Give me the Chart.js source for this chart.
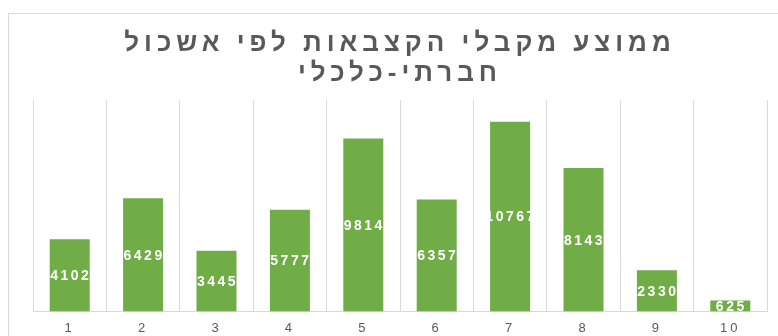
<!DOCTYPE html>
<html lang="he">
<head>
<meta charset="utf-8">
<title>ממוצע מקבלי הקצבאות לפי אשכול חברתי-כלכלי</title>
<script src="https://cdn.jsdelivr.net/npm/chart.js@4/dist/chart.umd.min.js"></script>
<style>
  html, body { margin: 0; padding: 0; background: #ffffff; }
  #wrap { position: relative; width: 778px; height: 336px; }
</style>
</head>
<body>
<div id="wrap"><canvas id="chart"></canvas></div>
<script>
// Socio-economic cluster (1 = lowest, 10 = highest)
const clusters = ['1', '2', '3', '4', '5', '6', '7', '8', '9', '10'];
// Average number of benefit recipients per cluster
const recipients = [4102, 6429, 3445, 5777, 9814, 6357, 10767, 8143, 2330, 625];
const titleLines = ['ממוצע מקבלי הקצבאות לפי אשכול', 'חברתי-כלכלי'];
const yMax = 12000;

const FONT = '"Liberation Sans", "DejaVu Sans", Arial, sans-serif';
const GREY_TEXT = '#595959';
const GRID = '#D9D9D9';
const BAR = '#70AD47';

// Light frame around the whole chart; wide glyph spacing for the title
const framePlugin = {
  id: 'frame',
  beforeDraw(chart) {
    const ctx = chart.ctx;
    ctx.save();
    ctx.strokeStyle = GRID;
    ctx.lineWidth = 1;
    ctx.strokeRect(8.5, 13.5, 900, 500);
    ctx.restore();
    ctx.letterSpacing = '5px';
  }
};

// Value written in the middle of each bar; then spacing for the axis labels
const valueLabels = {
  id: 'valueLabels',
  afterDatasetsDraw(chart) {
    const ctx = chart.ctx;
    const meta = chart.getDatasetMeta(0);
    const data = chart.data.datasets[0].data;
    ctx.save();
    ctx.letterSpacing = '2.5px';
    ctx.font = 'bold 14px ' + FONT;
    ctx.fillStyle = '#ffffff';
    ctx.textAlign = 'center';
    ctx.textBaseline = 'middle';
    meta.data.forEach((bar, i) => {
      const y = (bar.y + bar.base) / 2;
      ctx.fillText(String(data[i]), bar.x + 1, y + 1);
    });
    ctx.restore();
    ctx.letterSpacing = '3px';
  }
};

new Chart(document.getElementById('chart'), {
  type: 'bar',
  data: {
    labels: clusters,
    datasets: [{
      data: recipients,
      backgroundColor: BAR,
      borderWidth: 0,
      categoryPercentage: 1,
      barPercentage: 0.545
    }]
  },
  options: {
    responsive: true,
    maintainAspectRatio: false,
    animation: false,
    layout: { padding: { left: 33, right: 11, top: 0, bottom: -9 } },
    plugins: {
      legend: { display: false },
      tooltip: { enabled: false },
      title: {
        display: true,
        text: titleLines,
        color: GREY_TEXT,
        font: { family: FONT, size: 26, weight: 'bold', lineHeight: 30 / 26 },
        padding: { top: 29, bottom: 11 }
      }
    },
    scales: {
      x: {
        grid: { display: true, color: GRID, lineWidth: 1, drawTicks: false, offset: true },
        border: { display: true, color: GRID, width: 1 },
        ticks: {
          z: 1,
          color: GREY_TEXT,
          font: { family: FONT, size: 13 },
          padding: 9,
          maxRotation: 0
        }
      },
      y: {
        display: false,
        min: 0,
        max: yMax,
        grid: { display: false }
      }
    }
  },
  plugins: [framePlugin, valueLabels]
});
</script>
</body>
</html>
